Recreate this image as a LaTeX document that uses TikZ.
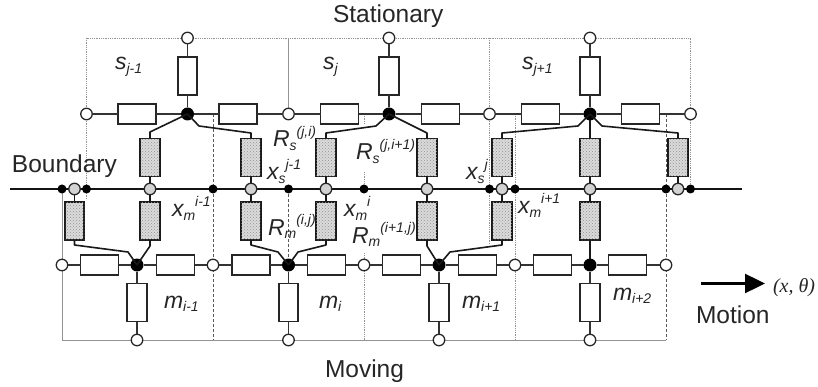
\documentclass[tikz,border=0pt]{standalone}
\usepackage{fontspec}
\setmainfont{Liberation Sans}
\newfontfamily\serifit{Liberation Serif}
\usetikzlibrary{patterns,arrows.meta}
\pgfdeclarelayer{bg}
\pgfsetlayers{bg,main}
\newcommand\biglab[1]{{\fontsize{24.5}{26}\selectfont #1}}
\newcommand\mainlab[1]{{\fontsize{23}{25}\selectfont\itshape #1}}
\newcommand\smalllab[1]{{\fontsize{14}{15}\selectfont\itshape #1}}
\newcommand\subsup[3]{\mainlab{#1}\raisebox{-3.5pt}{\smalllab{#2}}\raisebox{10.5pt}{\smalllab{#3}}}
\newcommand\subonly[2]{\mainlab{#1}\raisebox{-3.5pt}{\smalllab{#2}}}
\tikzset{
  x=1pt,y=-1pt,
  hres/.style={draw=black!85,line width=1.6pt,fill=white,minimum width=38pt,minimum height=20pt,inner sep=0pt,outer sep=0pt},
  vres/.style={draw=black!85,line width=1.6pt,fill=white,minimum width=19.5pt,minimum height=38pt,inner sep=0pt,outer sep=0pt},
  sres/.style={draw=black!90,line width=1.8pt,fill=gray!28,minimum width=19.5pt,minimum height=38pt,inner sep=0pt,outer sep=0pt,
     postaction={pattern=crosshatch dots,pattern color=gray!85}},
  hub/.style={circle,fill=black,minimum size=13pt,inner sep=0pt,outer sep=0pt},
  dotn/.style={circle,fill=black,minimum size=9pt,inner sep=0pt,outer sep=0pt},
  opn/.style={circle,draw=black!85,line width=1.3pt,fill=white,minimum size=11.5pt,inner sep=0pt,outer sep=0pt},
  grn/.style={circle,draw=black!85,line width=1.3pt,fill=gray!35,minimum size=11.5pt,inner sep=0pt,outer sep=0pt},
  wire/.style={line width=1.5pt,black!80},
  bus/.style={line width=2.8pt,black!92},
  cwire/.style={line width=1.6pt,black!90,line join=round},
  fdot/.style={line width=.8pt,gray!85,densely dotted},
  fsolid/.style={line width=.9pt,gray!85},
  fdash/.style={line width=1pt,gray!70!black,dash pattern=on 3pt off 2pt},
  lab/.style={anchor=base west,inner sep=0pt,outer sep=0pt,text=black!85}
}
\begin{document}
\begin{tikzpicture}
\useasboundingbox (0,0) rectangle (818,387);
% stationary row
\foreach \n/\x in {ta/187.5,tb/389,tc/590}{
  \node[opn] (\n top) at (\x,38) {};
  \node[vres] (\n v) at (\x,76) {};
  \node[hub] (\n) at (\x,114) {};
}
\node[opn] (sa) at (86.5,114) {};
\node[opn] (sb) at (288.5,114) {};
\node[opn] (sc) at (489.5,114) {};
\node[opn] (sd) at (690.5,114) {};
\node[hres] (ha) at (137,114) {};
\node[hres] (hb) at (238,114) {};
\node[hres] (hc) at (339.5,114) {};
\node[hres] (hd) at (440.5,114) {};
\node[hres] (he) at (540.5,114) {};
\node[hres] (hf) at (640.5,114) {};
% upper shaded
\foreach \n/\x in {ua/150,ub/251,uc/326,ud/427,ue/502,uf/590,ug/678}{
  \node[sres] (\n) at (\x,157.5) {};
  \node[grn] (g\n) at (\x,189) {};
}
\node[grn] (gla) at (74.5,189) {};
% boundary dots
\foreach \n/\x in {da/62,db/86.5,dc/213,dd/288.5,de/364,df/489.5,dg/515,dh/666,di/690.5}{
  \node[dotn] (\n) at (\x,189) {};
}
\coordinate (bl) at (10,189);
\coordinate (br) at (742,189);
% lower shaded
\foreach \n/\x in {la/74.5,lb/150,lc/251,ld/326,le/427,lf/502,lg/590}{
  \node[sres] (\n) at (\x,221) {};
}
% moving row
\foreach \n/\x in {ma/137,mb/288.5,mc/439,md/590}{
  \node[hub] (\n) at (\x,265) {};
  \node[vres] (\n v) at (\x,302.5) {};
  \node[opn] (\n bot) at (\x,340) {};
}
\node[opn] (oa) at (62,265) {};
\node[opn] (ob) at (213,265) {};
\node[opn] (oc) at (364,265) {};
\node[opn] (od) at (515,265) {};
\node[opn] (oe) at (666,265) {};
\node[hres] (na) at (99.5,265) {};
\node[hres] (nb) at (175.5,265) {};
\node[hres] (nc) at (251,265) {};
\node[hres] (nd) at (326.5,265) {};
\node[hres] (ne) at (401.5,265) {};
\node[hres] (nf) at (477.5,265) {};
\node[hres] (ng) at (552.5,265) {};
\node[hres] (nh) at (627.5,265) {};
% frame corners and free ends
\coordinate (ftl) at (86.5,38);
\coordinate (ftr) at (690.5,38);
\coordinate (ftm) at (288.5,38);
\coordinate (ftn) at (489.5,38);
\coordinate (fbl) at (62,340);
\coordinate (fbr) at (666,340);
\coordinate (fbd) at (213,340);
\coordinate (fbe) at (364,340);
\coordinate (fbg) at (515,340);
\begin{pgfonlayer}{bg}
  \draw[fdot] (ftl) -- (ftr) -- (di.center);
  \draw[fdot] (ftl) -- (sa.center) -- (db.center) -- (86.5,200);
  \draw[fsolid] (ftm) -- (sb.center);
  \draw[fdot] (ftn) -- (sc.center) -- (df.center) -- (489.5,245);
  \draw[fsolid] (da.center) -- (fbl) -- (fbr);
  \draw[fdash] (213,114) -- (dc.center) -- (ob.center) -- (fbd);
  \draw[fdash] (dd.center) -- (mb.center);
  \draw[fdot] (364,114) -- (364,124);
  \draw[fdot] (364,172) -- (de.center);
  \draw[fdot] (364,253) -- (oc.center) -- (fbe);
  \draw[fdot] (515,114) -- (dg.center) -- (od.center) -- (fbg);
  \draw[fdash,line width=.7pt] (666,114) -- (dh.center) -- (oe.center) -- (fbr);
  \draw[bus] (bl) -- (br);
\end{pgfonlayer}
% stationary wires
\draw[wire] (sa) -- (ha) -- (ta) -- (hb) -- (sb) -- (hc) -- (tb) -- (hd) -- (sc) -- (he) -- (tc) -- (hf) -- (sd);
\foreach \n in {ta,tb,tc}{ \draw[wire] (\n top) -- (\n v) -- (\n); }
% hub to upper shaded
\draw[cwire] (ta.center) -- (150,132) -- (ua.north);
\draw[cwire] (ta.center) -- (199,126) -- (251,133) -- (ub.north);
\draw[cwire] (tb.center) -- (376,126) -- (326,133) -- (uc.north);
\draw[cwire] (tb.center) -- (427,133) -- (ud.north);
\draw[cwire] (tc.center) -- (578,126) -- (502,133) -- (ue.north);
\draw[cwire] (tc) -- (uf);
\draw[cwire] (tc.center) -- (602,126) -- (678,133) -- (ug.north);
\foreach \n in {ua,ub,uc,ud,ue,uf,ug}{ \draw[cwire] (\n) -- (g\n); }
% boundary to lower shaded
\draw[cwire] (gla) -- (la);
\draw[cwire] (gua) -- (lb);
\draw[cwire] (gub) -- (lc);
\draw[cwire] (guc) -- (ld);
\draw[cwire] (gud) -- (le);
\draw[cwire] (gue) -- (lf);
\draw[cwire] (guf) -- (lg);
% lower shaded to moving hubs
\draw[cwire] (la.south) -- (74.5,245) -- (128,252) -- (ma.center);
\draw[cwire] (lb.south) -- (150,246) -- (ma.center);
\draw[cwire] (lc.south) -- (251,245) -- (278,252) -- (mb.center);
\draw[cwire] (ld.south) -- (326,245) -- (298,252) -- (mb.center);
\draw[cwire] (le.south) -- (427,246) -- (mc.center);
\draw[cwire] (lf.south) -- (502,245) -- (450,252) -- (mc.center);
\draw[cwire] (lg) -- (md);
% moving wires
\draw[wire] (oa) -- (na) -- (ma) -- (nb) -- (ob) -- (nc) -- (mb) -- (nd) -- (oc) -- (ne) -- (mc) -- (nf) -- (od) -- (ng) -- (md) -- (nh) -- (oe);
\foreach \n in {ma,mb,mc,md}{ \draw[wire] (\n) -- (\n v) -- (\n bot); }
% texts
\node[lab] (tstat) at (333,23) {\biglab{Stationary}};
\node[lab] (tbound) at (12,173) {\biglab{Boundary}};
\node[lab] (tmov) at (325,377) {\biglab{Moving}};
\node[lab] (tmot) at (696,323) {\biglab{Motion}};
\node[lab] (tsa) at (115,70) {\subonly{s}{j-1}};
\node[lab] (tsb) at (323,70) {\subonly{s}{j}};
\node[lab] (tsc) at (522,70) {\subonly{s}{j+1}};
\node[lab] (tma) at (164,308) {\subonly{m}{i-1}};
\node[lab] (tmb) at (319,308) {\subonly{m}{i}};
\node[lab] (tmc) at (462,308) {\subonly{m}{i+1}};
\node[lab] (tmd) at (613,300) {\subonly{m}{i+2}};
\node[lab] (rsa) at (273,147) {\subsup{R}{s}{(j,i)}};
\node[lab] (rsb) at (356,160) {\subsup{R}{s}{(j,i+1)}};
\node[lab] (xsa) at (267,180) {\subsup{x}{s}{j-1}};
\node[lab] (xsb) at (466,180) {\subsup{x}{s}{j}};
\node[lab] (xma) at (172,217) {\subsup{x}{m}{i-1}};
\node[lab] (rma) at (268,235) {\subsup{R}{m}{(i,j)}};
\node[lab] (xmb) at (344,217) {\subsup{x}{m}{i}};
\node[lab] (rmb) at (352,243) {\subsup{R}{m}{(i+1,j)}};
\node[lab] (xmc) at (518,214) {\subsup{x}{m}{i+1}};
% motion arrow
\coordinate (arrA) at (701,283.5);
\coordinate (arrB) at (765,283.5);
\node[lab] (xth) at (773,292) {\serifit\itshape\fontsize{20}{22}\selectfont (x, θ)};
\draw[line width=2.4pt,black,-{Triangle[length=20pt,width=19pt]}] (arrA) -- (arrB);
\end{tikzpicture}
\end{document}
